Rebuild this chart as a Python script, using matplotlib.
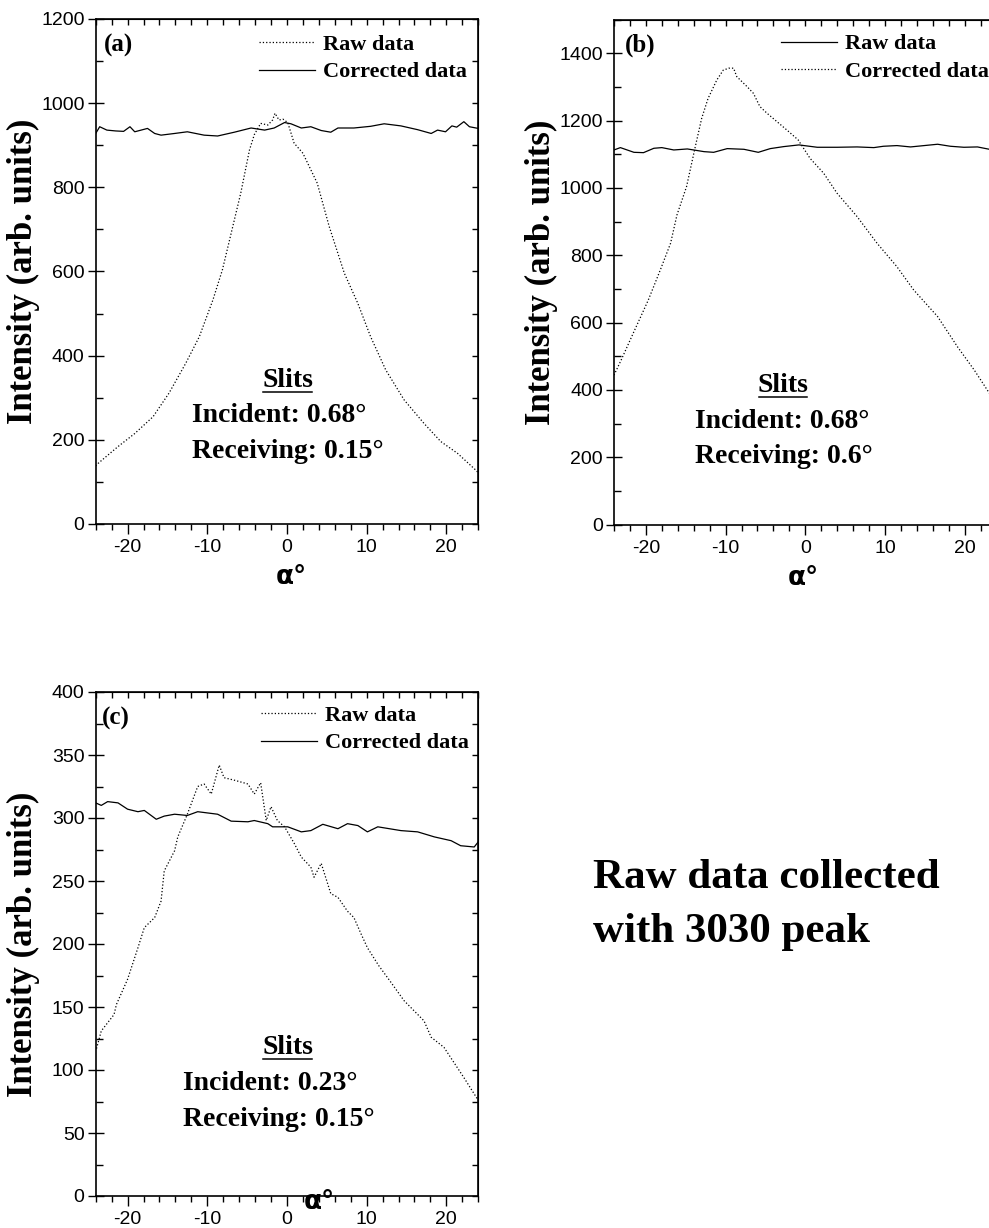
import matplotlib
matplotlib.use('Agg')
import matplotlib.pyplot as plt
from matplotlib.ticker import MultipleLocator
from matplotlib.lines import Line2D

# ---------------- data ----------------
# panel (a)
a_raw_x = [-24, -23.7, -21.2, -19.1, -16.8, -14.8, -12.7, -11.0, -9.3, -8.1, -7.0, -5.8, -4.7, -4.1,
           -3.3, -2.4, -1.8, -1.5, -1.0, -0.5, 0.1, 0.9, 2.0, 3.8, 5.3, 7.2, 8.9, 10.5, 12.4, 14.7,
           17.2, 19.3, 21.4, 23.7, 24]
a_raw_y = [138, 144, 184, 215, 255, 311, 382, 445, 532, 604, 691, 786, 889, 925,
           952, 948, 960, 976, 960, 962, 954, 905, 881, 810, 707, 596, 524, 445, 366, 295,
           239, 196, 168, 128, 122]
a_cor_x = [-24, -23.5, -22.6, -21.5, -20.5, -19.7, -19.1, -17.5, -16.6, -15.8, -14.1, -12.5, -10.4,
           -8.7, -6.6, -4.5, -2.8, -1.6, -0.3, 0.5, 1.8, 3.0, 4.3, 5.5, 6.4, 8.4, 10.5, 12.2, 14.3,
           16.4, 18.1, 18.9, 19.9, 20.7, 21.3, 22.2, 22.9, 24]
a_cor_y = [928, 944, 936, 934, 933, 944, 932, 940, 928, 924, 928, 932, 924,
           922, 931, 941, 936, 941, 954, 951, 941, 944, 935, 931, 941, 941, 945, 951, 946,
           937, 928, 936, 932, 946, 943, 956, 944, 940]

# panel (b)
b_flat_x = [-24, -23.2, -21.5, -20.3, -19.0, -18.0, -16.5, -14.8, -12.7, -11.5, -9.8, -7.7, -5.9,
            -4.4, -2.7, -0.8, 1.5, 4.0, 6.5, 8.6, 9.8, 11.5, 13.2, 14.9, 16.6, 18.2, 19.9, 21.6,
            23.1, 24]
b_flat_y = [1113, 1120, 1106, 1105, 1118, 1120, 1113, 1116, 1108, 1106, 1117, 1115, 1106,
            1117, 1123, 1128, 1121, 1121, 1122, 1120, 1124, 1126, 1122, 1126, 1130, 1124, 1121, 1122,
            1115, 1113]
b_peak_x = [-24, -23.1, -21.6, -19.7, -18.2, -16.9, -16.1, -14.9, -13.8, -13.0, -12.2, -11.1, -10.3,
            -9.6, -9.0, -8.6, -7.3, -6.5, -5.7, -4.8, -2.3, -0.9, 0.6, 2.3, 4.0, 6.5, 9.0, 11.5,
            13.6, 16.6, 19.1, 21.2, 23.1, 24]
b_peak_y = [444, 489, 568, 667, 756, 836, 920, 1004, 1123, 1207, 1266, 1321, 1350,
            1356, 1356, 1331, 1301, 1281, 1242, 1222, 1172, 1143, 1088, 1044, 984, 915, 836, 766,
            697, 618, 528, 459, 390, 365]

# panel (c)
c_flat_x = [-24.0, -23.3, -22.5, -21.2, -20.0, -18.7, -17.9, -16.4, -15.4, -14.1, -12.5, -11.2, -8.7,
            -7.0, -4.9, -4.1, -2.4, -1.8, 0.1, 1.8, 3.0, 4.5, 6.4, 7.6, 8.9, 10.1, 11.4, 14.3, 16.4,
            18.5, 20.6, 21.8, 23.5, 24.0]
c_flat_y = [312, 310, 313, 312, 307, 305, 306, 299, 301.5, 303, 302, 305, 303,
            297.5, 297, 298, 295.5, 293, 293, 289, 290, 295, 291.5, 295.5, 294, 289, 293, 290, 289,
            285, 282, 278, 277, 281]
c_peak_x = [-23.9, -23.3, -21.7, -21.4, -20.0, -18.7, -17.9, -16.6, -15.8, -15.4, -14.1, -13.7, -12.5,
            -11.2, -10.4, -9.5, -8.5, -7.9, -6.6, -4.9, -4.1, -3.3, -2.6, -2.0, -1.2, -0.3, 0.9,
            1.8, 3.0, 3.4, 4.3, 5.5, 6.4, 7.6, 8.4, 9.3, 10.1, 11.5, 13.0, 14.7, 17.2, 18.1, 19.7,
            22.2, 24.0]
c_peak_y = [117, 131, 144, 152, 172, 197, 213, 221, 234, 258, 274, 285, 303,
            325, 327, 319, 342, 332, 330, 327, 319, 328, 298, 309, 298, 293, 280,
            269, 261, 253, 264, 240, 237, 226, 221, 208, 197, 183, 170, 155, 139, 126, 118,
            94, 76]

panel_labels = ['(a)', '(b)', '(c)']
incident = ['0.68', '0.68', '0.23']
receiving = ['0.15', '0.6', '0.15']
ylims = [(0, 1200), (0, 1500), (0, 400)]
ymajor = [200, 200, 50]
yminor = [100, 100, 25]

SERIF = 'Liberation Serif'
SANS = 'Liberation Sans'
plt.rcParams['font.family'] = SANS
plt.rcParams['axes.unicode_minus'] = False

fig = plt.figure(figsize=(9.89, 12.28), dpi=100)
W, H = 989.0, 1228.0

def axes_px(left, top, right, bottom):
    return fig.add_axes([left / W, 1 - bottom / H, (right - left) / W, (bottom - top) / H])

ax_a = axes_px(95.7, 19.0, 478.2, 524.0)
ax_b = axes_px(614.0, 19.7, 996.6, 524.6)
ax_c = axes_px(95.7, 692.0, 478.2, 1196.0)
axes = [ax_a, ax_b, ax_c]


def setup(ax, i):
    ax.set_xlim(-24, 24)
    ax.set_ylim(*ylims[i])
    ax.xaxis.set_major_locator(MultipleLocator(10))
    ax.xaxis.set_minor_locator(MultipleLocator(2))
    ax.yaxis.set_major_locator(MultipleLocator(ymajor[i]))
    ax.yaxis.set_minor_locator(MultipleLocator(yminor[i]))
    ax.tick_params(axis='x', which='major', direction='out', length=7, width=1.0, pad=4, labelsize=14)
    ax.tick_params(axis='x', which='minor', direction='out', length=4, width=1.0)
    ax.tick_params(axis='y', which='major', direction='inout', length=12, width=1.0, pad=2, labelsize=14)
    ax.tick_params(axis='y', which='minor', direction='in', length=5, width=1.0)
    for sp in ax.spines.values():
        sp.set_linewidth(1.2)
    top = ax.secondary_xaxis('top')
    top.xaxis.set_major_locator(MultipleLocator(2))
    top.tick_params(direction='in', length=4, width=1.0, labeltop=False)
    right = ax.secondary_yaxis('right')
    right.yaxis.set_major_locator(MultipleLocator(yminor[i]))
    right.tick_params(direction='in', length=4, width=1.0, labelright=False)
    ax.set_ylabel('Intensity (arb. units)', family=SERIF, weight='bold', fontsize=25)
    ax.yaxis.set_label_coords(-0.19, 0.5)
    ax.yaxis.label.set_verticalalignment('center')
    ax.set_xlabel('α°', family='DejaVu Sans', weight='bold', fontsize=19)
    ax.xaxis.label.set_verticalalignment('center')


for i, ax in enumerate(axes):
    setup(ax, i)

# panel (a)
la1, = ax_a.plot(a_raw_x, a_raw_y, color='black', linestyle=':', lw=0.9)
la2, = ax_a.plot(a_cor_x, a_cor_y, color='black', linestyle='-', lw=0.9)
# panel (b)
lb1, = ax_b.plot(b_flat_x, b_flat_y, color='black', linestyle='-', lw=0.9)
lb2, = ax_b.plot(b_peak_x, b_peak_y, color='black', linestyle=':', lw=0.9)
# panel (c)
lc1, = ax_c.plot(c_peak_x, c_peak_y, color='black', linestyle=':', lw=0.9)
lc2, = ax_c.plot(c_flat_x, c_flat_y, color='black', linestyle='-', lw=0.9)

leg_prop = dict(family=SERIF, weight='bold', size=16)
legend_specs = [
    (ax_a, [la1, la2], ['Raw data', 'Corrected data'], 0.427, 0.969),
    (ax_b, [lb1, lb2], ['Raw data', 'Corrected data'], 0.4365, 0.972),
    (ax_c, [lc1, lc2], ['Raw data', 'Corrected data'], 0.433, 0.973),
]
for ax, hs, ls, x0, y0 in legend_specs:
    ax.legend(hs, ls, loc='upper left', bbox_to_anchor=(x0, y0), frameon=False, prop=leg_prop,
              handlelength=2.5, handletextpad=0.36, labelspacing=0.3, borderaxespad=0, borderpad=0)

# x-label positions
ax_a.xaxis.set_label_coords(0.511, -0.105)
ax_b.xaxis.set_label_coords(0.494, -0.105)
ax_c.xaxis.set_label_coords(0.584, -0.012)

# panel labels
label_pos = [(0.0217, 0.9485), (0.0288, 0.95), (0.0157, 0.948)]
for ax, lab, (x, y) in zip(axes, panel_labels, label_pos):
    ax.text(x, y, lab, transform=ax.transAxes, family=SERIF, weight='bold', fontsize=18,
            ha='left', va='center')

# slit annotations
slit_pos = [
    (0.5014, 0.285, 0.2518, 0.2158, 0.1432),
    (0.4417, 0.2764, 0.2117, 0.2038, 0.1345),
    (0.5014, 0.2937, 0.2275, 0.2242, 0.1508),
]
slit_texts = []
for ax, inc, rec, (sx, sy, lx, iy, ry) in zip(axes, incident, receiving, slit_pos):
    t = ax.text(sx, sy, 'Slits', transform=ax.transAxes, family=SERIF, weight='bold', fontsize=20,
                ha='center', va='center')
    slit_texts.append((ax, t))
    ax.text(lx, iy, f'Incident: {inc}°', transform=ax.transAxes, family=SERIF, weight='bold',
            fontsize=20, ha='left', va='center')
    ax.text(lx, ry, f'Receiving: {rec}°', transform=ax.transAxes, family=SERIF, weight='bold',
            fontsize=20, ha='left', va='center')

# big annotation
fig.text(593 / W, 1 - 888 / H, 'Raw data collected', family=SERIF, weight='bold', fontsize=31,
         ha='left', va='baseline')
fig.text(593 / W, 1 - 942 / H, 'with 3030 peak', family=SERIF, weight='bold', fontsize=31,
         ha='left', va='baseline')

# underline "Slits"
fig.canvas.draw()
inv = fig.transFigure.inverted()
for ax, t in slit_texts:
    bb = t.get_window_extent()
    cy = (bb.y0 + bb.y1) / 2.0
    yline = cy - 11.5
    p0 = inv.transform((bb.x0 + 1, yline))
    p1 = inv.transform((bb.x1 - 1, yline))
    fig.add_artist(Line2D([p0[0], p1[0]], [p0[1], p1[1]], transform=fig.transFigure,
                          color='black', lw=1.1))

fig.savefig('out.png', dpi=100)
